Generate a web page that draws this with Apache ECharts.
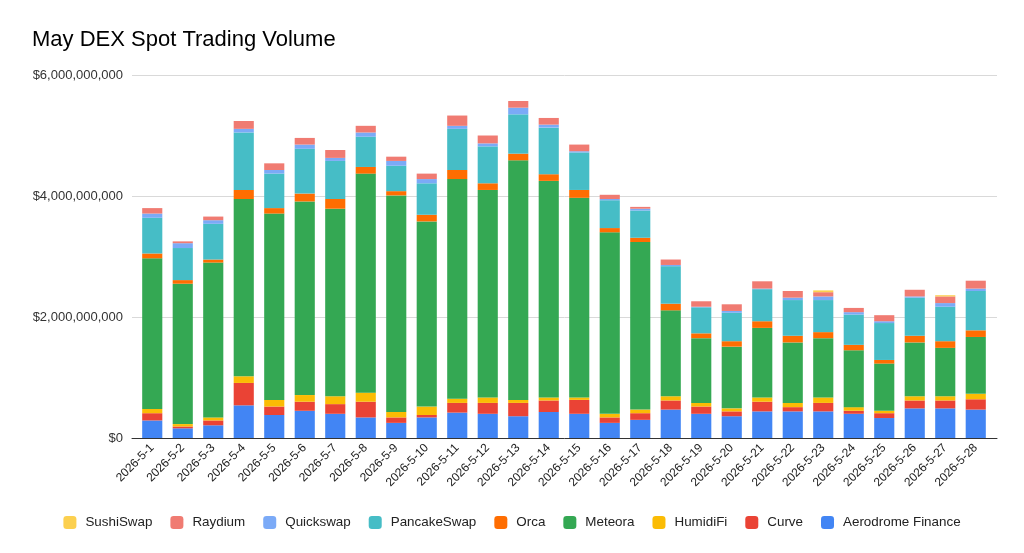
<!DOCTYPE html>
<html>
<head>
<meta charset="utf-8">
<script src="https://cdn.jsdelivr.net/npm/echarts@6/dist/echarts.min.js"></script>
<style>html,body{margin:0;padding:0;background:#fff}#c{width:1024px;height:553px}</style>
</head>
<body>
<div id="c"></div>
<script>
// values in millions of USD
const categories = ['2026-5-1','2026-5-2','2026-5-3','2026-5-4','2026-5-5','2026-5-6','2026-5-7','2026-5-8','2026-5-9','2026-5-10','2026-5-11','2026-5-12','2026-5-13','2026-5-14','2026-5-15','2026-5-16','2026-5-17','2026-5-18','2026-5-19','2026-5-20','2026-5-21','2026-5-22','2026-5-23','2026-5-24','2026-5-25','2026-5-26','2026-5-27','2026-5-28'];
const aerodrome = [290,160,210,540,380,450,400,340,250,340,420,400,360,430,400,250,300,470,400,360,440,440,440,400,330,490,490,470];
const curve     = [120,30,80,370,140,150,160,260,90,40,160,180,220,190,230,90,110,150,120,80,160,70,140,50,80,130,130,170];
const humidifi  = [70,40,50,110,110,110,130,150,90,140,70,90,50,50,40,60,60,70,60,50,70,70,90,60,40,70,70,90];
const meteora   = [2490,2320,2560,2930,3080,3200,3100,3620,3580,3060,3630,3430,3960,3580,3300,3000,2770,1420,1070,1020,1150,1000,980,940,780,890,800,940];
const orca      = [80,60,50,150,90,130,160,110,70,110,150,110,110,110,130,70,70,110,80,90,110,110,100,90,60,110,110,110];
const pancake   = [590,530,590,950,570,740,630,500,420,520,680,610,650,770,620,460,450,620,430,470,530,590,530,500,610,630,570,650];
const quickswap = [70,80,60,60,60,70,50,70,80,70,50,50,110,50,20,20,30,20,10,30,10,40,60,40,30,20,60,40];
const raydium   = [90,30,60,130,110,110,130,110,70,90,170,130,110,110,110,70,30,90,90,110,120,110,70,70,100,110,110,130];
const sushiswap = [0,0,0,0,0,0,0,0,0,0,0,0,0,0,0,0,0,0,0,0,0,0,30,0,0,0,20,0];
const yTicks = [0,2000,4000,6000];

const seriesDefs = [
  ['Aerodrome Finance', aerodrome, '#4285F4'],
  ['Curve', curve, '#EA4335'],
  ['HumidiFi', humidifi, '#FBBC04'],
  ['Meteora', meteora, '#34A853'],
  ['Orca', orca, '#FF6D01'],
  ['PancakeSwap', pancake, '#46BDC6'],
  ['Quickswap', quickswap, '#7BAAF7'],
  ['Raydium', raydium, '#F07B72'],
  ['SushiSwap', sushiswap, '#FCD04F']
];

const font = 'Liberation Sans, Arial, Helvetica, sans-serif';
const chart = echarts.init(document.getElementById('c'));
chart.setOption({
  animation: false,
  textStyle: {fontFamily: font},
  title: {text: 'May DEX Spot Trading Volume', left: 27, top: 24,
    textStyle: {fontFamily: font, fontSize: 22, fontWeight: 'normal', color: '#000'}},
  legend: {
    data: seriesDefs.map(s => s[0]).reverse(),
    top: 511, left: 'center', itemWidth: 13, itemHeight: 13, itemGap: 18, icon: 'roundRect',
    textStyle: {fontFamily: font, fontSize: 13.4, color: '#222', padding: [0, 0, 0, 4]}
  },
  grid: [
    {left: 132, right: 27, top: 75, bottom: 115, containLabel: false},
    {left: 137, right: 33, top: 75, bottom: 115, containLabel: false}
  ],
  xAxis: [
    {type: 'value', gridIndex: 0, min: 0, max: 1, axisLabel: {show: false}, axisTick: {show: false},
     splitLine: {show: false}, axisLine: {show: true, lineStyle: {color: '#333', width: 1}}},
    {type: 'category', gridIndex: 1, data: categories, axisLine: {show: false}, axisTick: {show: false},
     axisLabel: {rotate: 45, fontSize: 12, color: '#222', margin: 8, interval: 0, fontFamily: font}}
  ],
  yAxis: [
    {type: 'value', gridIndex: 0, min: 0, max: 6000, interval: 2000,
     axisLine: {show: false}, axisTick: {show: false},
     splitLine: {lineStyle: {color: '#d9d9d9', width: 1}},
     axisLabel: {fontSize: 13, color: '#333', margin: 9, fontFamily: font,
       formatter: v => yTicks.includes(v) ? '$' + (v * 1e6).toLocaleString('en-US') : ''}},
    {type: 'value', gridIndex: 1, min: 0, max: 6000, show: false, splitLine: {show: false}}
  ],
  series: seriesDefs.map(([name, data, color]) => ({
    name, type: 'bar', stack: 'total', xAxisIndex: 1, yAxisIndex: 1,
    data, barWidth: '66%', itemStyle: {color}
  }))
});
</script>
</body>
</html>
